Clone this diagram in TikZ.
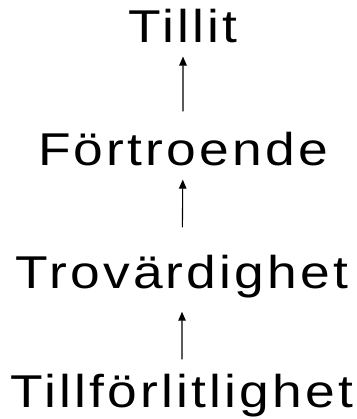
\documentclass[tikz,border=0pt]{standalone}
\usepackage{fontspec}
\setmainfont{Liberation Sans}[LetterSpace=6]
\usetikzlibrary{arrows.meta}
\tikzset{
  level node/.style={
    anchor=base,
    inner sep=0pt,
    font=\fontsize{46}{48}\selectfont,
    xscale=1.16,
  },
  up arrow/.style={
    draw,
    line width=1.1pt,
    -{Triangle[length=9pt,width=7.5pt]},
  },
}

\begin{document}
\begin{tikzpicture}[x=1pt,y=1pt]
  \useasboundingbox (0,0) rectangle (356,-419);
  \node[level node] (tillit) at (183,-43) {Tillit};
  \node[level node] (fortroende) at (183,-166) {Förtroende};
  \node[level node] (trovardighet) at (182,-288) {Trovärdighet};
  \node[level node] (tillforlitlighet) at (182,-407) {Tillförlitlighet};
  \draw[up arrow, shorten <=21pt, shorten >=13pt] (fortroende) -- (tillit);
  \draw[up arrow, shorten <=27pt, shorten >=13pt] (trovardighet) -- (fortroende);
  \draw[up arrow, shorten <=14pt, shorten >=14pt] (tillforlitlighet) -- (trovardighet);
\end{tikzpicture}
\end{document}
